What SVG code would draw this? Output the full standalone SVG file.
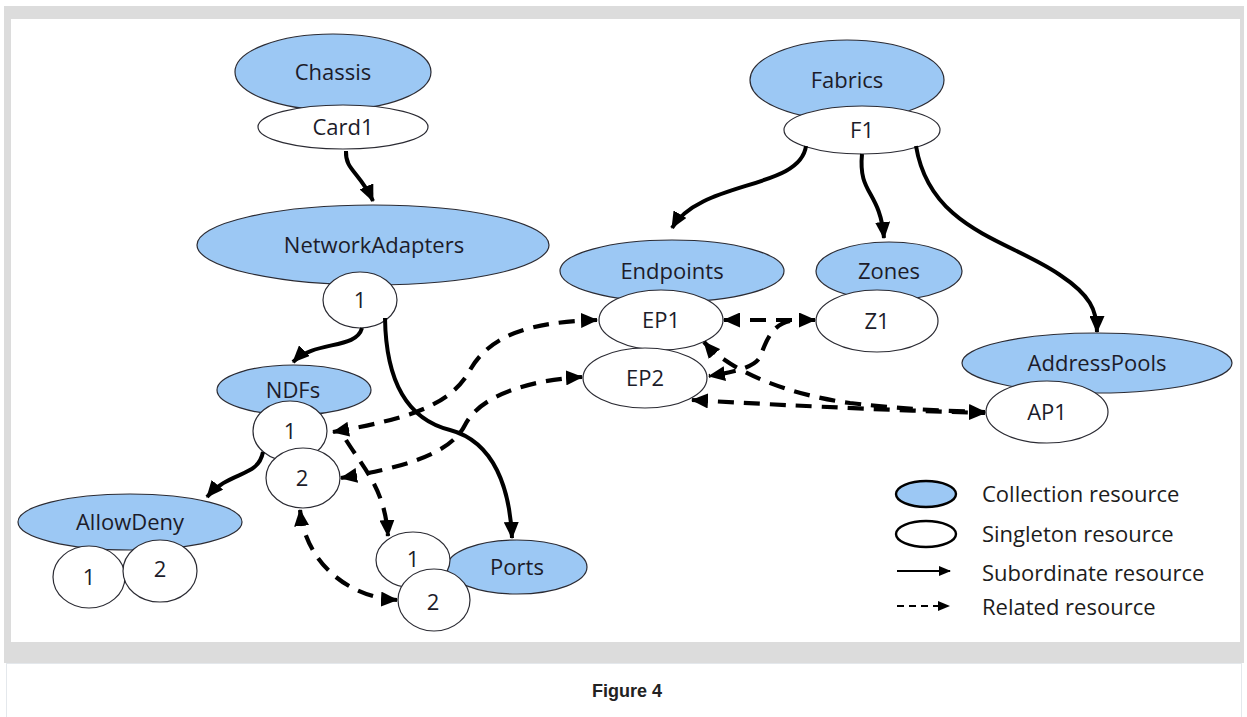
<svg xmlns="http://www.w3.org/2000/svg" width="1247" height="717" viewBox="0 0 1247 717">
<defs>
<style>
.col{fill:#9cc8f4;stroke:#2b2b33;stroke-width:1.2}
.sng{fill:#ffffff;stroke:#2b2b33;stroke-width:1.2}
.t{font-family:"Open Sans","Noto Sans",sans-serif;font-size:22px;fill:#1c1c2a;text-anchor:middle}
.lt{font-family:"Open Sans","Noto Sans",sans-serif;font-size:22px;fill:#1c1c1c}
.sol{fill:none;stroke:#000;stroke-width:4}
.dsh{fill:none;stroke:#000;stroke-width:4.2;stroke-dasharray:16 10}
</style>
<marker id="ah" viewBox="0 0 17 15" refX="16" refY="7.5" markerWidth="17" markerHeight="15" markerUnits="userSpaceOnUse" orient="auto-start-reverse"><path d="M0,0 L17,7.5 L0,15 z" fill="#000"/></marker>
<marker id="ahs" viewBox="0 0 12 10" refX="11" refY="5" markerWidth="12" markerHeight="10" markerUnits="userSpaceOnUse" orient="auto"><path d="M0,0 L12,5 L0,10 z" fill="#000"/></marker>
</defs>
<rect x="4" y="6" width="1240" height="657" fill="#dcdcdc"/>
<rect x="11" y="19" width="1229" height="623" fill="#ffffff"/>
<rect x="6.5" y="663.5" width="1235" height="60" fill="#ffffff" stroke="#e4e8ec"/>
<text x="627" y="697" font-family="Liberation Sans,Arial,sans-serif" font-size="18" font-weight="bold" text-anchor="middle" fill="#222">Figure 4</text>

<g id="chassis"><ellipse class="col" cx="333" cy="72" rx="98" ry="38"/><text class="t" x="333" y="80">Chassis</text></g>
<g id="card1"><ellipse class="sng" cx="343" cy="127" rx="85" ry="22"/><text class="t" x="343" y="135">Card1</text></g>
<g id="fabrics"><ellipse class="col" cx="847" cy="80" rx="97" ry="40"/><text class="t" x="847" y="88">Fabrics</text></g>
<g id="f1"><ellipse class="sng" cx="862" cy="130" rx="78" ry="24"/><text class="t" x="862" y="138">F1</text></g>
<g id="networkadapters"><ellipse class="col" cx="373" cy="245" rx="176" ry="40"/><text class="t" x="374" y="253">NetworkAdapters</text></g>
<g id="na1"><ellipse class="sng" cx="360" cy="300" rx="37" ry="28"/><text class="t" x="360" y="308">1</text></g>
<g id="endpoints"><ellipse class="col" cx="672" cy="271" rx="112" ry="31"/><text class="t" x="672" y="279">Endpoints</text></g>
<g id="ep1"><ellipse class="sng" cx="661" cy="320" rx="62" ry="30"/><text class="t" x="661" y="328">EP1</text></g>
<g id="ep2"><ellipse class="sng" cx="645" cy="378" rx="62" ry="30"/><text class="t" x="645" y="386">EP2</text></g>
<g id="zones"><ellipse class="col" cx="889" cy="271" rx="73" ry="29"/><text class="t" x="889" y="279">Zones</text></g>
<g id="z1"><ellipse class="sng" cx="877" cy="321" rx="61" ry="31"/><text class="t" x="877" y="329">Z1</text></g>
<g id="addresspools"><ellipse class="col" cx="1097" cy="363" rx="135" ry="30"/><text class="t" x="1097" y="371">AddressPools</text></g>
<g id="ap1"><ellipse class="sng" cx="1047" cy="412" rx="61" ry="31"/><text class="t" x="1047" y="420">AP1</text></g>
<g id="ndfs"><ellipse class="col" cx="294" cy="390" rx="77" ry="25"/><text class="t" x="293" y="398">NDFs</text></g>
<g id="ndf1"><ellipse class="sng" cx="290" cy="431" rx="37" ry="30"/><text class="t" x="290" y="439">1</text></g>
<g id="ndf2"><ellipse class="sng" cx="303" cy="478" rx="37" ry="30"/><text class="t" x="302" y="486">2</text></g>
<g id="allowdeny"><ellipse class="col" cx="130" cy="522" rx="112" ry="28"/><text class="t" x="130" y="530">AllowDeny</text></g>
<g id="ad1"><ellipse class="sng" cx="89" cy="577" rx="36" ry="31"/><text class="t" x="89" y="585">1</text></g>
<g id="ad2"><ellipse class="sng" cx="160" cy="571" rx="37" ry="31"/><text class="t" x="160" y="577">2</text></g>
<g id="ports"><ellipse class="col" cx="517" cy="567" rx="70" ry="27"/><text class="t" x="517" y="575">Ports</text></g>
<g id="port1"><ellipse class="sng" cx="413" cy="560" rx="37" ry="28"/><text class="t" x="413" y="567">1</text></g>
<g id="port2"><ellipse class="sng" cx="434" cy="600" rx="36" ry="31"/><text class="t" x="433" y="610">2</text></g>

<g id="connectors">
<path class="sol" marker-end="url(#ah)" d="M346,151 C345,170 360,172 373,201"/>
<path class="sol" marker-end="url(#ah)" d="M806,146 C800,190 700,180 672,228"/>
<path class="sol" marker-end="url(#ah)" d="M862,154 C858,195 880,190 884,238"/>
<path class="sol" marker-end="url(#ah)" d="M916,146 C930,230 1010,240 1060,275 C1090,295 1097,310 1097,332"/>
<path class="sol" marker-end="url(#ah)" d="M362,328 C356,350 315,340 293,362"/>
<path class="sol" marker-end="url(#ah)" d="M385,318 C386,385 410,420 450,430 C495,442 510,490 512,538"/>
<path class="sol" marker-end="url(#ah)" d="M263,452 C258,478 230,470 207,497"/>
<path class="dsh" marker-start="url(#ah)" marker-end="url(#ah)" d="M333,432 C400,420 450,408 470,370 C490,335 530,322 597,320"/>
<path class="dsh" marker-start="url(#ah)" marker-end="url(#ah)" d="M341,478 C400,468 450,455 465,425 C480,395 530,380 582,377"/>
<path class="dsh" marker-start="url(#ah)" marker-end="url(#ah)" d="M300,510 C305,560 345,597 397,600"/>
<path class="dsh" marker-end="url(#ah)" d="M346,440 C365,470 385,490 388,536"/>
<path class="dsh" marker-start="url(#ah)" marker-end="url(#ah)" d="M724,320 L815,320"/>
<path class="dsh" marker-end="url(#ah)" d="M790,321 C770,325 765,345 760,357 C755,367 735,372 709,376"/>
<path class="dsh" marker-start="url(#ah)" marker-end="url(#ah)" d="M704,342 C730,372 790,395 850,403 C910,410 950,411 985,412"/>
<path class="dsh" marker-start="url(#ah)" marker-end="url(#ah)" d="M692,400 C760,404 880,410 985,413"/>
</g>

<g id="legend">
<ellipse cx="926" cy="494" rx="30" ry="13" fill="#9cc8f4" stroke="#000" stroke-width="2.4"/>
<ellipse cx="926" cy="534" rx="30" ry="13" fill="#fff" stroke="#000" stroke-width="2.4"/>
<path d="M897,571 L950,571" stroke="#000" stroke-width="2" fill="none" marker-end="url(#ahs)"/>
<path d="M897,606 L938,606" stroke="#000" stroke-width="2" stroke-dasharray="7 5" fill="none"/>
<path d="M938,601 L950,606 L938,611 z" fill="#000"/>
<text class="lt" x="982" y="502">Collection resource</text>
<text class="lt" x="982" y="542">Singleton resource</text>
<text class="lt" x="982" y="581">Subordinate resource</text>
<text class="lt" x="982" y="615">Related resource</text>
</g>
</svg>
